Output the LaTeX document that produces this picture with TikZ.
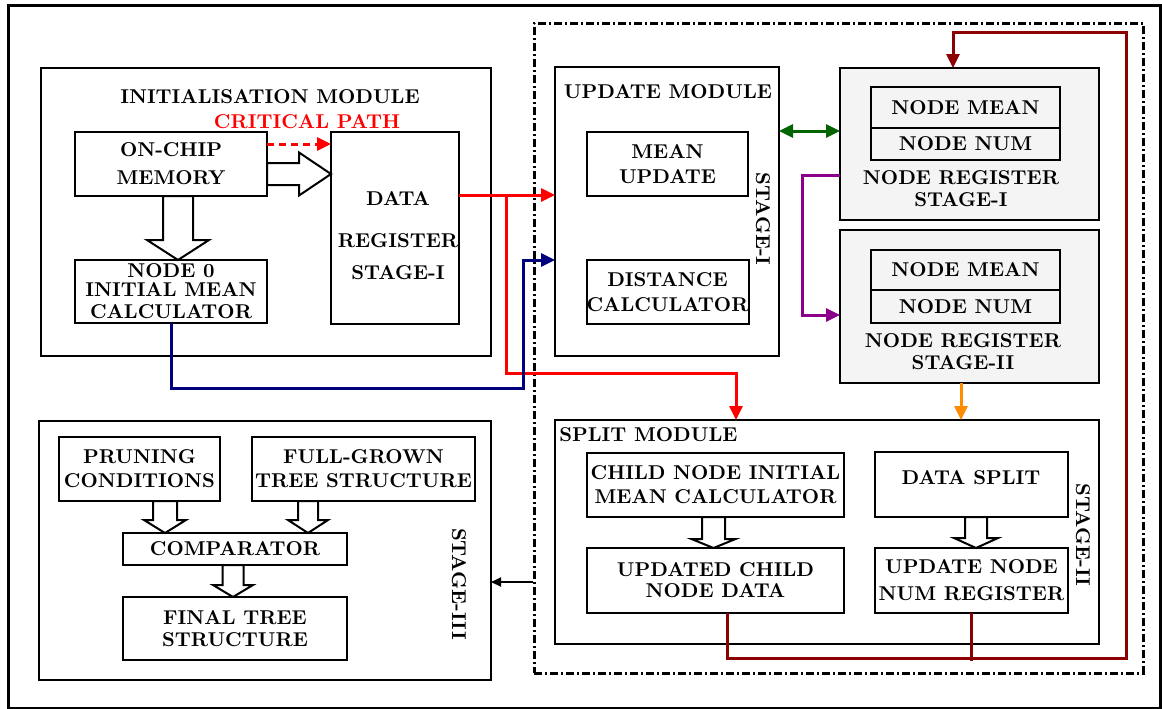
\documentclass[tikz,border=0pt]{standalone}
\usepackage{xcolor}
\usepackage{tikz}
\usetikzlibrary{arrows.meta,calc,positioning}
\definecolor{critred}{HTML}{FF0000}
\definecolor{navy}{HTML}{00007F}
\definecolor{leaf}{HTML}{006400}
\definecolor{plum}{HTML}{8B008B}
\definecolor{amber}{HTML}{FF8C00}
\definecolor{maroon}{HTML}{8B0000}
\definecolor{regfill}{HTML}{F4F4F4}
% hollow block arrows: start, end, shaft half width, head half width, head length
\newcommand{\blockdown}[5]{%
  \draw[hollow] let \p1=(#1), \p2=(#2) in
    (\x1-#3,\y1) -- (\x1+#3,\y1) -- (\x1+#3,\y2+#5) -- (\x1+#4,\y2+#5)
    -- (\x1,\y2) -- (\x1-#4,\y2+#5) -- (\x1-#3,\y2+#5) -- cycle;}
\newcommand{\blockright}[5]{%
  \draw[hollow] let \p1=(#1), \p2=(#2) in
    (\x1,\y1+#3) -- (\x2-#5,\y1+#3) -- (\x2-#5,\y1+#4) -- (\x2,\y1)
    -- (\x2-#5,\y1-#4) -- (\x2-#5,\y1-#3) -- (\x1,\y1-#3) -- cycle;}

\begin{document}
\begin{tikzpicture}[x=0.5pt,y=-0.5pt,
    blk/.style={draw, line width=1pt, inner sep=0pt, outer sep=0pt, align=center, font=\bfseries},
    regbox/.style={blk, fill=regfill},
    txt/.style={inner sep=0pt, align=center, font=\bfseries},
    hollow/.style={draw, line width=1pt, fill=white, line join=miter},
    wire/.style={line width=1.5pt, -{Triangle[length=7pt,width=6.5pt]}}]
  \useasboundingbox (0,0) rectangle (1162,708);
  \draw[line width=1.5pt] (8,5) rectangle (1160,708);
  \node[draw, line width=1.5pt, dash pattern=on 4pt off 1.5pt on 1pt off 1.5pt,
        minimum width=304.5pt, minimum height=325pt, inner sep=0pt] (core) at (838.5,348) {};

  % initialisation module
  \node[blk, minimum width=225pt, minimum height=144pt] (initmod) at (266,212) {};
  \node[txt] (inittitle) at (270,97) {INITIALISATION MODULE};
  \node[txt, text=critred] (crit) at (307,122) {CRITICAL PATH};
  \node[blk, minimum width=96pt, minimum height=32pt] (mem) at (171,164) {ON-CHIP\\[2pt]MEMORY};
  \node[blk, minimum width=64pt, minimum height=96pt] (datareg) at (395,228) {};
  \node[txt] (dregtxt) at (398,236) {DATA\\[9pt]REGISTER\\[4pt]STAGE-I};
  \node[blk, minimum width=96pt, minimum height=31.5pt] (node0) at (171,291.5)
    {NODE 0\\[-2.5pt]INITIAL MEAN\\[-1pt]CALCULATOR};

  % update module
  \node[blk, minimum width=112pt, minimum height=144.5pt] (updmod) at (667,211.5) {};
  \node[txt] (updtitle) at (668,92) {UPDATE MODULE};
  \node[blk, minimum width=80.5pt, minimum height=32pt] (meanupd) at (667.5,164) {MEAN\\[0.5pt]UPDATE};
  \node[blk, minimum width=80.5pt, minimum height=32pt] (distcalc) at (667.5,292) {DISTANCE\\[0.5pt]CALCULATOR};
  \node[txt, rotate=-90] (stage1) at (763,219) {STAGE-I};

  % node registers
  \node[regbox, minimum width=129.5pt, minimum height=76pt] (nreg1) at (969.5,144) {};
  \node[blk, minimum width=94.5pt, minimum height=20.5pt] (nmean1) at (965.5,107.5) {NODE MEAN};
  \node[blk, minimum width=94.5pt, minimum height=16pt, below=0pt of nmean1] (nnum1) {NODE NUM};
  \node[txt] (nreg1lbl) at (961,189) {NODE REGISTER\\[-1pt]STAGE-I};
  \node[regbox, minimum width=129.5pt, minimum height=76.5pt] (nreg2) at (969.5,306.5) {};
  \node[blk, minimum width=94.5pt, minimum height=20pt] (nmean2) at (965.5,270) {NODE MEAN};
  \node[blk, minimum width=94.5pt, minimum height=16.5pt, below=0pt of nmean2] (nnum2) {NODE NUM};
  \node[txt] (nreg2lbl) at (963,352) {NODE REGISTER\\[-1pt]STAGE-II};

  % split module
  \node[blk, minimum width=272pt, minimum height=112pt] (splitmod) at (827,532) {};
  \node[txt, anchor=west] (splittitle) at (559,435) {SPLIT MODULE};
  \node[blk, minimum width=128.5pt, minimum height=32pt] (childcalc) at (715.5,485)
    {CHILD NODE INITIAL\\[0pt]MEAN CALCULATOR};
  \node[blk, minimum width=128.5pt, minimum height=32.5pt] (updchild) at (715.5,580.5)
    {UPDATED CHILD\\[-1.5pt]NODE DATA};
  \node[blk, minimum width=96.5pt, minimum height=32.5pt] (datasplit) at (971.5,484.5) {};
  \node[txt] (splittxt) at (971,478) {DATA SPLIT};
  \node[blk, minimum width=96.5pt, minimum height=32.5pt] (updnum) at (971.5,580.5)
    {UPDATE NODE\\[1.5pt]NUM REGISTER};
  \node[txt, rotate=-90] (stage2) at (1083,535) {STAGE-II};

  % stage III
  \node[blk, minimum width=226pt, minimum height=129.5pt] (stage3) at (265,550.5) {};
  \node[blk, minimum width=80.5pt, minimum height=32pt] (prune) at (139.5,469) {PRUNING\\CONDITIONS};
  \node[blk, minimum width=111.5pt, minimum height=32pt] (fullgrown) at (363.5,469) {FULL-GROWN\\TREE STRUCTURE};
  \node[blk, minimum width=112pt, minimum height=16pt] (comparator) at (235,549) {COMPARATOR};
  \node[blk, minimum width=112pt, minimum height=31.5pt] (finaltree) at (235,628.5) {FINAL TREE\\[-1pt]STRUCTURE};
  \node[txt, rotate=-90] (stage3lbl) at (459,584) {STAGE-III};

  % hollow arrows
  \blockdown{[xshift=3.5pt]mem.south}{node0.north}{7.5pt}{15.5pt}{10pt}
  \blockright{[yshift=-5pt]mem.east}{datareg.west}{5.5pt}{10.75pt}{16pt}
  \blockdown{[xshift=12.75pt]prune.south}{comparator.north}{6pt}{10.5pt}{6.5pt}
  \blockdown{[xshift=-27.75pt]fullgrown.south}{comparator.north}{5pt}{10pt}{6.5pt}
  \blockdown{[xshift=-1pt]comparator.south}{finaltree.north}{5.25pt}{10pt}{6pt}
  \blockdown{[xshift=-1pt]childcalc.south}{updchild.north}{5.75pt}{11pt}{4.5pt}
  \blockdown{[xshift=2.25pt]datasplit.south}{updnum.north}{5.5pt}{11pt}{5pt}

  % critical path
  \coordinate (ctap) at ([yshift=10pt]mem.east);
  \draw[wire, critred, dash pattern=on 3.5pt off 2.5pt] (ctap) -- (ctap -| datareg.west);
  \coordinate (rtap) at ([yshift=16.5pt]datareg.east);
  \draw[wire, critred] (rtap) -- (rtap -| updmod.west);
  \coordinate (rfork) at (506,195);
  \coordinate (rlow) at (736,373);
  \draw[wire, critred] (rfork) |- (rlow) -- (rlow |- splitmod.north);

  % node 0 mean to update module
  \coordinate (bcorner) at (523,388);
  \draw[wire, navy] (node0.south) |- (bcorner) |- ([yshift=-24.25pt]updmod.west);

  % register links
  \coordinate (gin) at ([yshift=6.5pt]nreg1.west);
  \draw[wire, leaf, {Triangle[length=7pt,width=6.5pt]}-{Triangle[length=7pt,width=6.5pt]}]
    (gin -| updmod.east) -- (gin);
  \coordinate (pout) at ([yshift=-15.5pt]nreg1.west);
  \coordinate (pcorner) at (802,175);
  \draw[wire, plum] (pout) -- (pcorner) |- ([yshift=-4.25pt]nreg2.west);
  \coordinate (otap) at ([xshift=-4.25pt]nreg2.south);
  \draw[wire, amber] (otap) -- (otap |- splitmod.north);

  % feedback to node register
  \coordinate (mtap) at ([xshift=5.75pt]updchild.south);
  \coordinate (mlow) at (1126,658);
  \coordinate (mtop) at (953,32);
  \draw[wire, maroon] (mtap) |- (mlow) |- (mtop) -- (mtop |- nreg1.north);
  \draw[maroon, line width=1.5pt, shorten >=-1.5pt] (updnum.south) -- (updnum.south |- mlow);

  % to stage III
  \coordinate (s3in) at (core.west |- 0,582);
  \draw[line width=1pt, -{Triangle[length=5pt,width=4.5pt]}] (s3in) -- (s3in -| stage3.east);
\end{tikzpicture}
\end{document}
